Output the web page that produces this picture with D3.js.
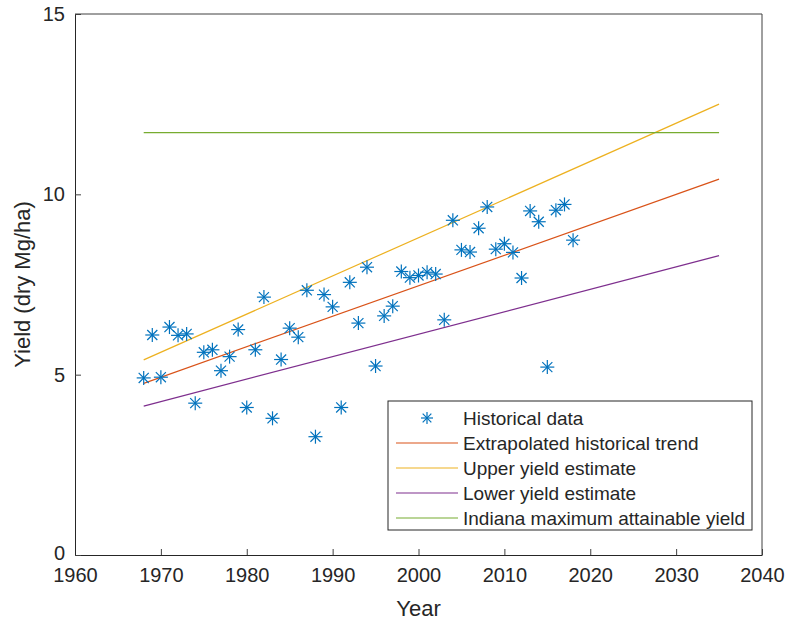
<!DOCTYPE html>
<meta charset="utf-8">
<style>
  body { margin: 0; background: #fff; }
  svg text { font-family: "Liberation Sans", Arial, sans-serif; fill: #262626; }
</style>
<script src="https://d3js.org/d3.v7.min.js"></script>
<div id="chart"></div>
<script>

// historical yields (dry Mg/ha), one per year
var years = d3.range(1968, 2019);
var yields = [4.91, 6.10, 4.93, 6.32, 6.09, 6.13, 4.21, 5.62, 5.69, 5.11,
              5.50, 6.25, 4.09, 5.69, 7.15, 3.79, 5.42, 6.29, 6.04, 7.34,
              3.28, 7.22, 6.88, 4.09, 7.56, 6.43, 7.98, 5.24, 6.63, 6.90,
              7.86, 7.69, 7.75, 7.84, 7.79, 6.52, 9.28, 8.46, 8.40, 9.06,
              9.65, 8.48, 8.63, 8.39, 7.68, 9.54, 9.24, 5.21, 9.56, 9.72,
              8.73];

// projection lines: start / end years and values
var lineYears = [1968, 2035];
var trendVals = [4.76, 10.42];
var upperVals = [5.41, 12.50];
var lowerVals = [4.13, 8.30];
var maxVals = [11.71, 11.71];

var xTicks = [1960, 1970, 1980, 1990, 2000, 2010, 2020, 2030, 2040];
var yTicks = [0, 5, 10, 15];

var legendLabels = ["Historical data", "Extrapolated historical trend",
  "Upper yield estimate", "Lower yield estimate", "Indiana maximum attainable yield"];

var colors = {
  data: "#0072BD", trend: "#D95319", upper: "#EDB120", lower: "#7E2F8E", max: "#77AC30"
};

var margin = {top: 14, right: 23, bottom: 66, left: 75},
    width = 785 - margin.left - margin.right,
    height = 621 - margin.top - margin.bottom;

var svg = d3.select("#chart")
  .append("svg")
    .attr("width", 785)
    .attr("height", 621)
  .append("g")
    .attr("transform", "translate(" + margin.left + "," + margin.top + ")");

var x = d3.scaleLinear().domain([1960, 2040]).range([0, width]);
var y = d3.scaleLinear().domain([0, 15]).range([height, 0]);

// axes, ticks pointing inward like matlab
var xAxis = svg.append("g")
  .attr("transform", "translate(0," + height + ")")
  .call(d3.axisBottom(x).tickValues(xTicks).tickFormat(d3.format("d"))
    .tickSizeInner(-6).tickSizeOuter(0).tickPadding(13));
var yAxis = svg.append("g")
  .call(d3.axisLeft(y).tickValues(yTicks).tickSizeInner(-6).tickSizeOuter(0).tickPadding(10));

[xAxis, yAxis].forEach(function(a) {
  a.selectAll("path, line").attr("stroke", "#262626");
  a.selectAll("text").style("font-size", "20px").attr("fill", "#262626");
});
xAxis.selectAll(".tick line").attr("stroke", "#404040");
yAxis.selectAll(".tick line").attr("stroke", "#404040");
// lift the "0" a touch so it clears the 1960 label
yAxis.selectAll(".tick text").filter(function(d) { return d === 0; }).attr("dy", "0.22em");

// box top and right
svg.append("line").attr("x1", 0).attr("x2", width).attr("y1", 0).attr("y2", 0)
  .attr("stroke", "#404040");
svg.append("line").attr("x1", width).attr("x2", width).attr("y1", 0).attr("y2", height)
  .attr("stroke", "#404040");

// projection lines
var line = d3.line()
  .x(function(d) { return x(d[0]); })
  .y(function(d) { return y(d[1]); });

var series = [
  {vals: trendVals, color: colors.trend},
  {vals: upperVals, color: colors.upper},
  {vals: lowerVals, color: colors.lower},
  {vals: maxVals, color: colors.max}
];
series.forEach(function(s) {
  svg.append("path")
    .datum(d3.zip(lineYears, s.vals))
    .attr("d", line)
    .attr("fill", "none")
    .attr("stroke", s.color)
    .attr("stroke-width", 1.2);
});

// asterisk marker
function star(g, r) {
  var d = r * 0.72;
  g.append("line").attr("x1", -r).attr("x2", r).attr("y1", 0).attr("y2", 0);
  g.append("line").attr("x1", 0).attr("x2", 0).attr("y1", -r).attr("y2", r);
  g.append("line").attr("x1", -d).attr("x2", d).attr("y1", -d).attr("y2", d);
  g.append("line").attr("x1", -d).attr("x2", d).attr("y1", d).attr("y2", -d);
}

svg.selectAll(".pt")
  .data(d3.zip(years, yields))
  .enter()
  .append("g")
    .attr("class", "pt")
    .attr("transform", function(d) { return "translate(" + x(d[0]) + "," + y(d[1]) + ")"; })
    .attr("stroke", colors.data)
    .attr("stroke-width", 1.2)
    .each(function() { star(d3.select(this), 7); });

// axis labels
svg.append("text")
  .attr("x", width / 2)
  .attr("y", height + 61)
  .attr("text-anchor", "middle")
  .style("font-size", "22px")
  .text("Year");

svg.append("text")
  .attr("transform", "translate(" + (-45) + "," + (height / 2) + ")rotate(-90)")
  .attr("text-anchor", "middle")
  .style("font-size", "22px")
  .text("Yield (dry Mg/ha)");

// legend
var lg = svg.append("g").attr("transform", "translate(" + (388 - margin.left) + "," + (401 - margin.top) + ")");
lg.append("rect")
  .attr("width", 364).attr("height", 129)
  .attr("fill", "#fff").attr("stroke", "#262626");

var legendColors = [colors.data, colors.trend, colors.upper, colors.lower, colors.max];
legendLabels.forEach(function(lab, i) {
  var cy = 17 + i * 25;
  if (i === 0) {
    var m = lg.append("g").attr("transform", "translate(39," + cy + ")")
      .attr("stroke", legendColors[i]).attr("stroke-width", 1.2);
    star(m, 6);
  } else {
    lg.append("line").attr("x1", 8).attr("x2", 70).attr("y1", cy).attr("y2", cy)
      .attr("stroke", legendColors[i]).attr("stroke-width", 1.2);
  }
  lg.append("text")
    .attr("x", 75).attr("y", cy).attr("dy", "0.35em")
    .style("font-size", "19px")
    .text(lab);
});

</script>
